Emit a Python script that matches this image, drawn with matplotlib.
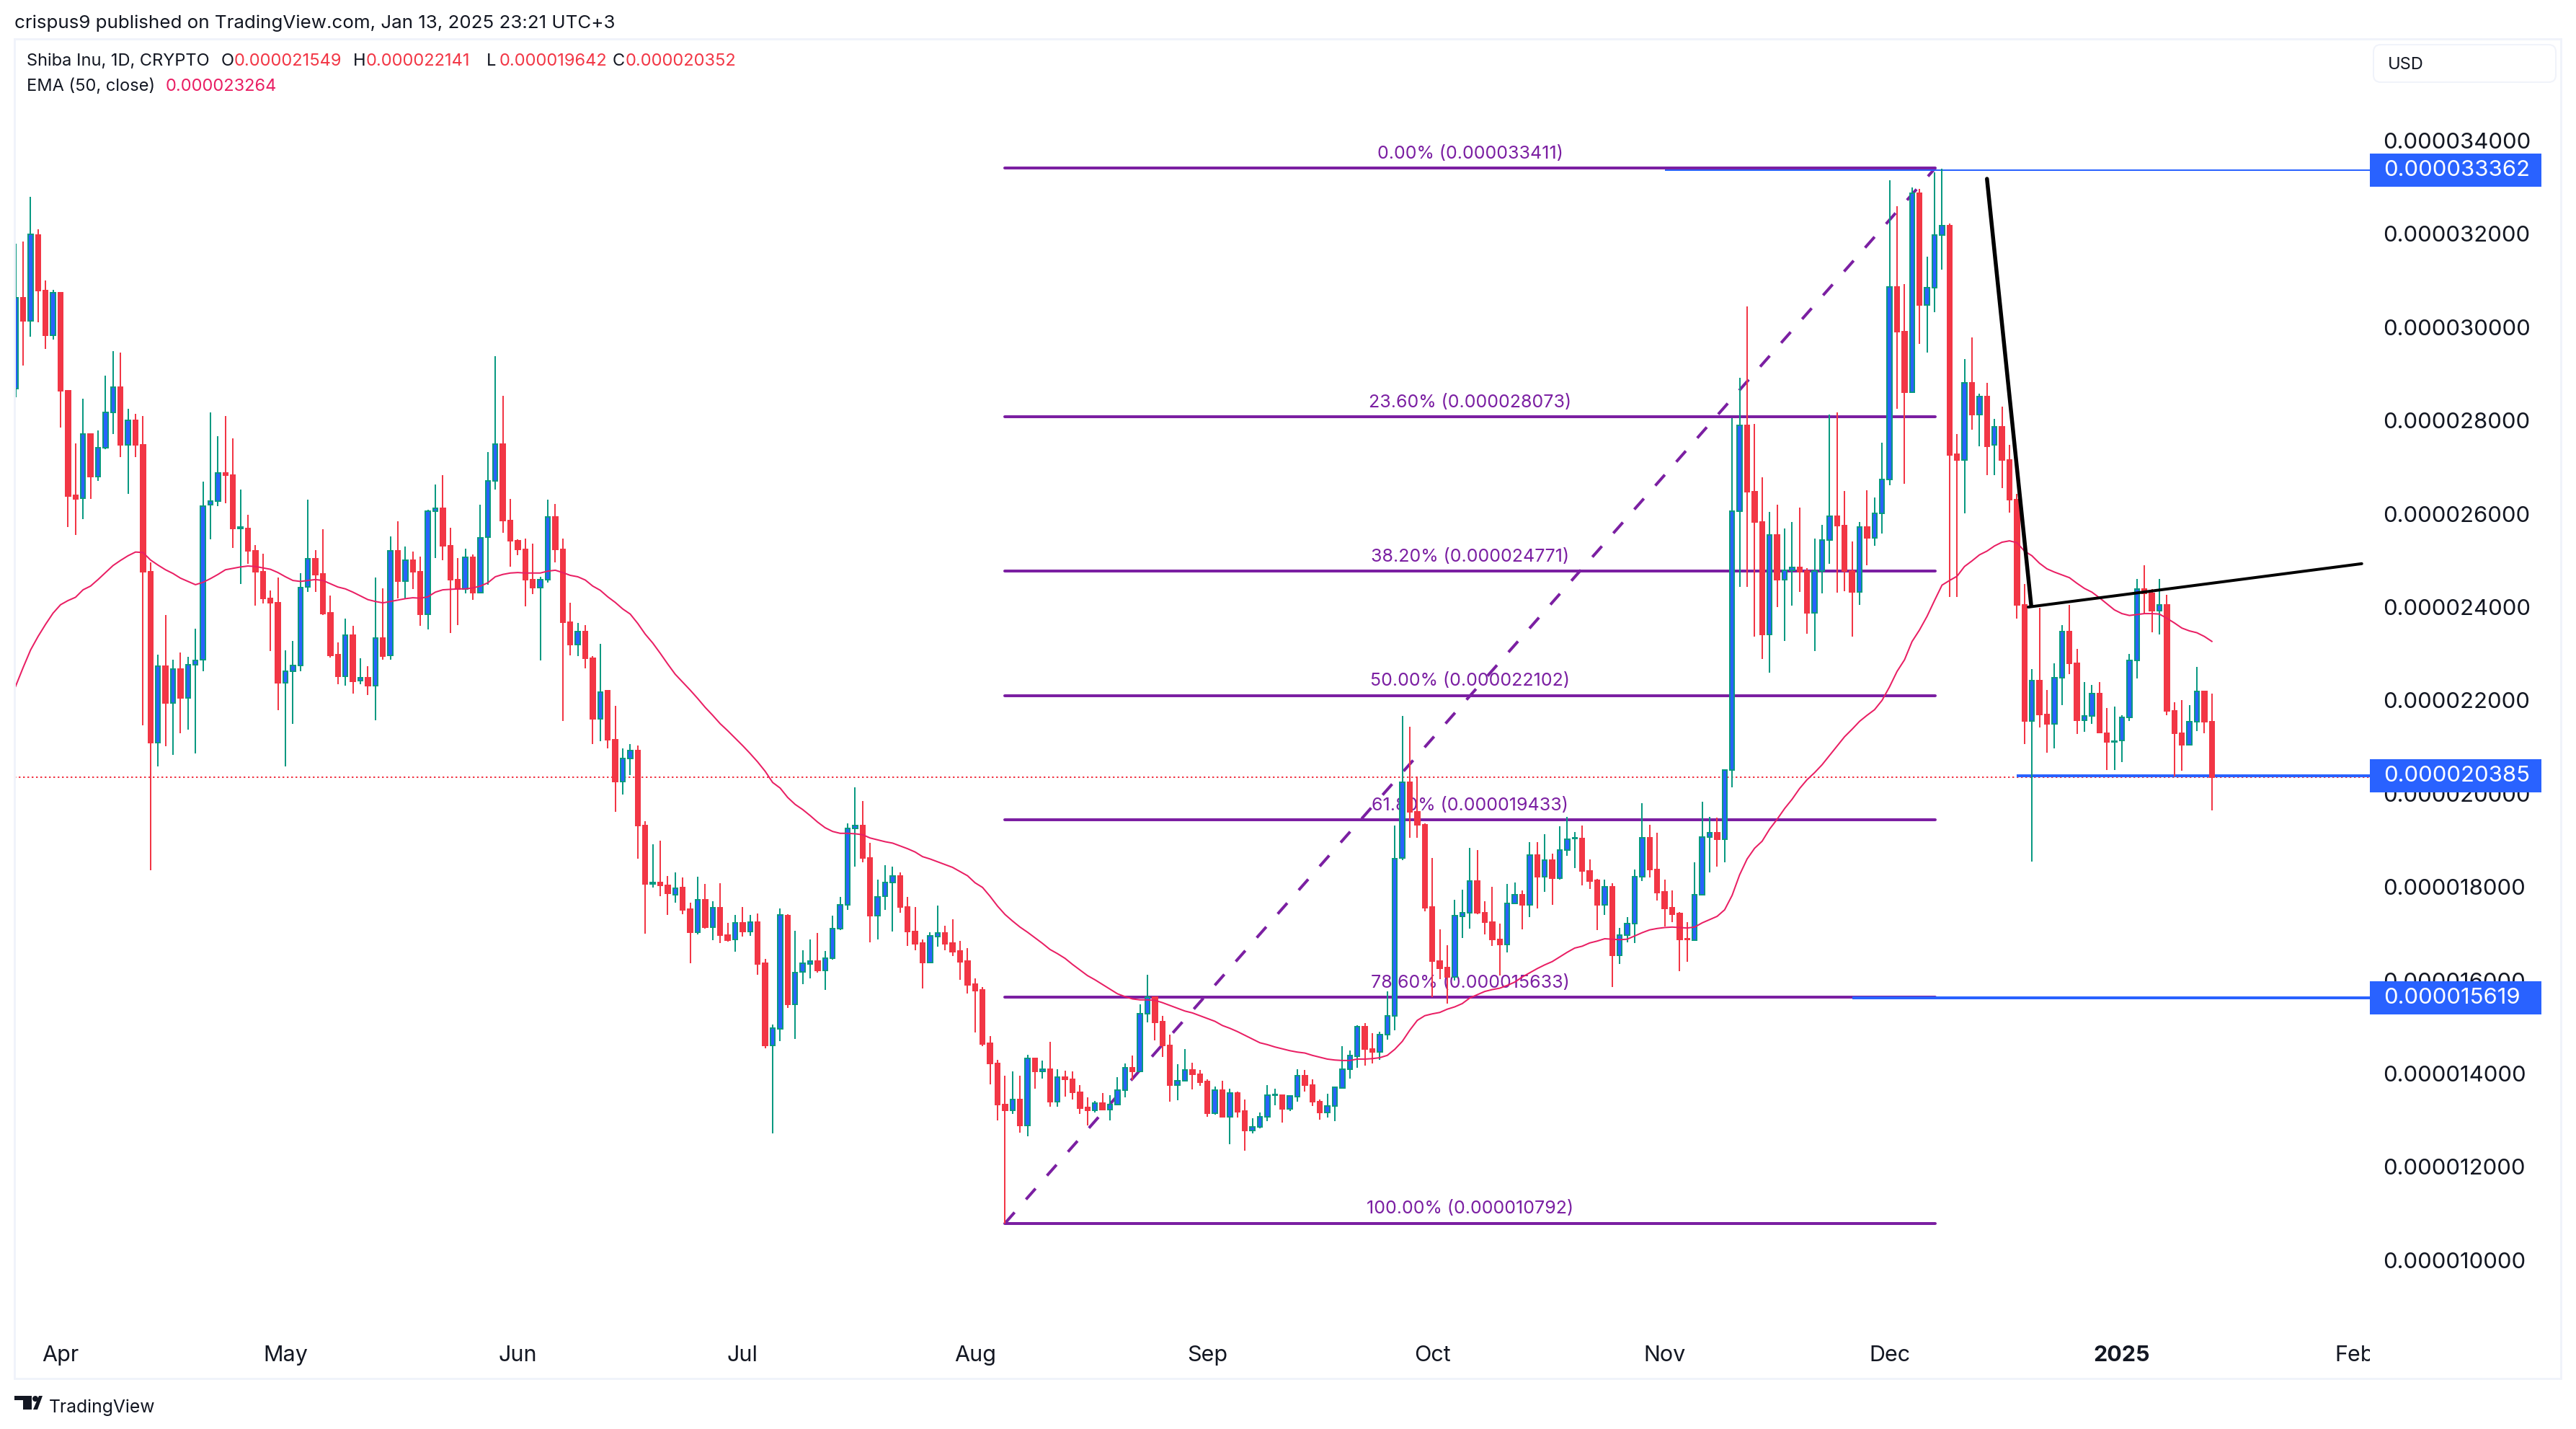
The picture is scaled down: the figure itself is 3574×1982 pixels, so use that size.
import matplotlib
matplotlib.use("Agg")
import matplotlib.pyplot as plt
import numpy as np
from matplotlib.patches import Rectangle, FancyBboxPatch, Polygon, Circle
from matplotlib.transforms import Affine2D, blended_transform_factory
from matplotlib.ticker import FuncFormatter

plt.rcParams['font.family'] = ['Inter', 'DejaVu Sans']

W, H = 3574, 1982

# daily candles, prices in millionths of a USD. index 0 is 26 Mar 2024, last is 13 Jan 2025
opens = [
    28.68,30.63,30.13,31.97,30.78,29.82,30.74,28.63,26.40,26.33,
    27.71,26.79,27.42,28.17,28.72,27.47,28.01,27.48,24.75,21.10,
    22.73,21.94,22.67,22.06,22.77,22.87,26.19,26.27,26.88,26.83,
    25.69,25.69,25.20,24.75,24.19,24.09,22.37,22.63,22.75,24.43,
    25.04,24.71,23.87,22.98,22.52,23.39,22.43,22.49,22.31,23.34,
    22.96,25.21,24.55,25.01,24.75,23.85,26.05,26.11,25.31,24.58,
    24.38,25.06,24.31,25.50,26.71,27.50,25.85,25.42,25.23,24.59,
    24.41,24.59,25.93,25.23,23.68,23.19,23.47,22.90,21.61,22.21,
    21.16,20.26,20.75,20.93,19.31,18.07,18.10,18.03,17.84,17.98,
    17.52,17.03,17.73,17.13,17.55,16.96,16.87,17.23,17.05,17.25,
    16.36,14.60,14.96,17.39,15.48,16.18,16.35,16.41,16.21,16.48,
    17.10,17.62,19.25,19.32,18.62,17.38,17.80,18.10,18.24,17.57,
    17.04,16.80,16.38,16.94,17.01,16.80,16.63,16.41,15.92,15.79,
    14.65,14.21,13.33,13.21,13.45,12.88,14.32,14.04,14.10,13.39,
    13.92,13.88,13.60,13.27,13.21,13.37,13.23,13.33,13.65,14.12,
    14.05,15.29,15.64,15.11,14.61,13.76,13.85,14.07,13.99,13.83,
    13.15,13.65,13.08,13.59,13.19,12.78,12.86,13.08,13.53,13.53,
    13.25,13.51,13.96,13.75,13.39,13.17,13.30,13.69,14.10,14.37,
    15.00,14.53,14.46,14.83,15.24,18.62,20.25,19.61,19.34,17.57,
    16.41,16.27,16.07,17.37,17.44,18.12,17.44,17.24,16.88,16.76,
    17.64,17.84,17.62,18.69,18.22,18.57,18.19,18.79,19.04,19.04,
    18.35,18.14,17.62,18.01,16.54,16.97,17.21,18.22,19.05,18.38,
    17.89,17.55,17.43,16.89,16.86,17.84,19.07,19.17,19.03,20.50,
    26.06,27.89,26.48,25.83,23.42,25.54,24.59,24.79,24.85,24.77,
    23.88,24.78,25.43,25.94,25.75,24.78,24.33,25.71,25.49,26.01,
    26.73,30.86,29.91,28.60,32.87,30.48,30.84,31.98,32.18,27.27,
    27.16,28.80,28.13,28.52,27.47,27.86,27.16,26.31,24.04,21.56,
    22.42,21.69,21.50,22.48,23.47,22.80,21.57,21.66,22.14,21.30,
    21.11,21.14,21.64,22.85,24.38,24.30,23.92,24.04,21.78,21.29,
    21.05,21.55,22.19,21.549]
closes = [
    30.63,30.13,31.99,30.78,29.82,30.74,28.63,26.38,26.32,27.71,
    26.79,27.42,28.17,28.72,27.47,28.01,27.47,24.75,21.10,22.73,
    21.94,22.67,22.06,22.77,22.86,26.17,26.27,26.88,26.83,25.68,
    25.71,25.20,24.75,24.19,24.09,22.37,22.63,22.75,24.42,25.04,
    24.70,23.86,22.97,22.52,23.39,22.41,22.49,22.31,23.34,22.95,
    25.21,24.55,25.01,24.75,23.85,26.05,26.11,25.31,24.58,24.38,
    25.06,24.31,25.49,26.71,27.50,25.85,25.42,25.23,24.59,24.41,
    24.59,25.93,25.23,23.68,23.19,23.47,22.90,21.61,22.18,21.16,
    20.26,20.75,20.93,19.31,18.07,18.10,18.03,17.86,17.97,17.51,
    17.03,17.73,17.13,17.55,16.96,16.86,17.23,17.05,17.25,16.35,
    14.60,14.97,17.40,15.48,16.17,16.36,16.41,16.21,16.48,17.10,
    17.62,19.25,19.32,18.62,17.38,17.79,18.10,18.24,17.57,17.04,
    16.78,16.38,16.95,17.01,16.78,16.61,16.40,15.90,15.78,14.63,
    14.21,13.33,13.21,13.45,12.88,14.32,14.04,14.10,13.39,13.92,
    13.88,13.60,13.26,13.21,13.37,13.23,13.33,13.65,14.12,14.05,
    15.29,15.64,15.10,14.61,13.76,13.85,14.07,13.99,13.82,13.15,
    13.65,13.07,13.59,13.18,12.78,12.86,13.08,13.53,13.55,13.25,
    13.52,13.96,13.75,13.39,13.17,13.31,13.70,14.10,14.38,15.00,
    14.53,14.46,14.83,15.24,18.61,20.25,19.61,19.34,17.55,16.41,
    16.26,16.07,17.38,17.44,18.12,17.44,17.24,16.88,16.76,17.64,
    17.84,17.62,18.69,18.22,18.57,18.19,18.79,19.02,19.05,18.35,
    18.13,17.62,18.01,16.54,16.97,17.21,18.22,19.05,18.37,17.88,
    17.54,17.42,16.87,16.88,17.84,19.07,19.17,19.03,20.50,26.06,
    27.89,26.48,25.83,23.42,25.54,24.59,24.79,24.85,24.75,23.88,
    24.77,25.43,25.94,25.75,24.78,24.33,25.71,25.49,26.01,26.73,
    30.86,29.91,28.60,32.87,30.48,30.84,31.98,32.18,27.26,27.16,
    28.80,28.13,28.52,27.45,27.86,27.16,26.31,24.04,21.56,22.42,
    21.69,21.50,22.48,23.47,22.80,21.57,21.66,22.14,21.31,21.11,
    21.13,21.64,22.85,24.38,24.30,23.92,24.04,21.78,21.29,21.05,
    21.55,22.19,21.54,20.352]
highs = [
    31.79,31.84,32.80,32.10,31.00,30.80,30.74,28.63,27.51,28.47,
    27.71,27.78,28.96,29.49,29.45,28.25,28.14,28.10,24.96,22.98,
    23.83,22.87,23.03,22.94,23.54,26.69,28.18,27.66,28.10,27.62,
    26.52,25.98,25.33,25.14,24.36,24.63,23.08,23.28,24.72,26.30,
    25.22,25.67,24.24,23.24,23.75,23.60,22.90,22.73,24.63,24.40,
    25.52,25.84,25.30,25.19,25.08,26.09,26.63,26.83,25.70,25.05,
    25.25,25.13,26.20,27.32,29.38,28.53,26.32,25.46,25.47,25.36,
    24.65,26.31,26.21,25.47,24.10,23.66,23.61,22.95,23.21,22.21,
    21.88,20.97,21.06,21.04,19.41,18.92,19.00,18.23,18.31,18.21,
    17.66,18.22,18.06,17.69,18.08,17.23,17.40,17.57,17.40,17.43,
    16.46,15.05,17.54,17.42,17.06,16.64,16.87,17.01,16.63,17.39,
    17.78,19.37,20.14,19.84,18.95,18.15,18.46,18.43,18.31,17.78,
    17.57,16.87,17.03,17.60,17.17,17.31,16.84,16.69,16.04,15.86,
    14.81,14.30,13.95,14.04,13.95,14.40,14.32,14.28,14.68,14.10,
    14.06,14.04,13.75,13.49,13.42,13.59,13.53,13.93,14.21,14.39,
    15.49,16.11,15.65,15.24,14.84,14.20,14.53,14.23,14.08,13.88,
    13.72,13.84,13.68,13.62,13.44,13.04,13.17,13.75,13.68,13.55,
    13.54,14.10,14.07,13.87,13.45,13.57,13.70,14.59,14.50,15.03,
    15.08,14.86,14.90,15.76,19.31,21.66,21.44,20.37,19.36,18.62,
    17.09,16.75,17.72,17.94,18.84,18.79,17.70,18.00,17.21,18.07,
    18.10,17.93,18.96,18.96,19.13,18.71,19.30,19.51,19.18,19.32,
    18.59,18.17,18.16,18.08,17.12,17.35,18.37,19.80,19.33,19.16,
    18.16,17.93,17.46,17.25,18.53,19.83,19.51,19.49,20.50,28.05,
    28.92,30.45,27.93,26.78,26.04,26.20,25.69,25.82,26.13,24.84,
    25.47,25.76,28.13,28.17,26.49,25.41,25.82,26.51,26.35,27.53,
    33.15,32.60,30.93,32.99,32.96,31.51,33.32,33.40,32.22,27.71,
    29.31,29.78,28.57,28.81,28.04,28.29,27.47,26.42,24.49,22.67,
    23.99,22.23,22.80,23.62,24.05,23.11,22.39,22.33,22.39,21.83,
    21.87,21.68,23.00,24.61,24.90,24.38,24.61,24.26,21.96,22.01,
    21.90,22.72,22.19,22.141]
lows = [
    28.50,29.18,29.80,30.11,29.53,29.73,27.85,25.72,25.54,25.89,
    26.32,26.70,27.38,27.71,27.22,26.43,27.21,21.46,18.36,20.58,
    21.02,20.83,21.30,21.37,20.87,22.63,25.45,26.16,26.22,25.26,
    24.49,24.93,24.03,24.07,23.06,21.79,20.59,21.50,22.63,24.32,
    24.32,23.83,22.92,22.35,22.32,22.14,22.35,22.11,21.57,22.87,
    22.87,24.18,24.18,24.39,23.60,23.52,25.05,25.01,23.45,23.62,
    24.30,24.16,24.30,24.48,26.52,25.59,24.87,25.11,24.02,24.28,
    22.85,24.52,24.96,21.56,22.97,22.95,22.69,21.06,21.13,20.97,
    19.61,19.98,20.40,18.61,17.00,17.98,17.80,17.40,17.67,17.42,
    16.36,16.98,17.11,16.86,16.80,16.83,16.61,16.94,16.95,16.12,
    14.54,12.72,14.70,15.41,14.74,15.92,16.04,16.17,15.79,16.44,
    17.08,17.51,18.43,18.53,16.82,16.88,17.51,17.05,17.44,16.73,
    16.64,15.82,16.37,16.72,16.64,16.52,16.01,15.72,14.88,14.59,
    13.77,13.00,10.79,13.13,12.73,12.65,13.68,13.89,13.29,13.29,
    13.51,13.45,13.13,12.89,13.17,13.23,13.00,13.33,13.49,13.86,
    14.05,15.10,14.71,14.35,13.40,13.43,13.84,13.66,13.73,13.07,
    13.12,13.06,12.48,13.05,12.34,12.72,12.82,12.98,13.32,12.95,
    13.20,13.40,13.62,13.30,13.01,13.05,12.98,13.69,13.89,14.13,
    14.17,14.22,14.29,14.73,14.92,18.57,19.06,19.06,17.47,15.64,
    16.03,15.50,15.99,16.91,17.11,17.42,16.99,16.74,16.10,16.59,
    17.64,17.09,17.36,17.54,17.90,17.61,18.15,18.66,18.40,18.04,
    17.95,17.07,17.40,15.85,16.35,16.82,16.80,18.12,18.21,17.71,
    17.15,17.25,16.20,16.40,16.84,17.84,18.31,18.43,18.53,20.14,
    24.44,24.43,23.36,22.88,22.59,24.00,23.27,24.03,24.32,23.43,
    23.06,24.29,24.93,24.31,24.34,23.36,24.05,24.89,25.31,25.58,
    26.61,28.25,26.64,28.60,29.64,29.46,30.32,31.23,24.21,24.21,
    26.01,27.80,27.45,26.83,26.83,26.55,26.03,23.75,21.07,18.54,
    21.42,20.88,20.97,21.90,22.56,21.28,21.33,21.50,21.30,20.51,
    20.50,20.68,21.56,22.47,23.85,23.46,23.42,21.68,20.37,20.49,
    21.05,21.34,21.30,19.642]
ema50 = [
    22.30,22.70,23.08,23.37,23.63,23.87,24.05,24.14,24.21,24.37,
    24.45,24.59,24.74,24.89,25.00,25.10,25.18,25.17,25.01,24.90,
    24.80,24.72,24.62,24.55,24.48,24.53,24.61,24.70,24.80,24.83,
    24.86,24.88,24.87,24.84,24.81,24.74,24.65,24.57,24.55,24.57,
    24.59,24.57,24.50,24.43,24.39,24.32,24.24,24.16,24.12,24.09,
    24.12,24.15,24.18,24.20,24.19,24.22,24.32,24.37,24.38,24.39,
    24.39,24.41,24.45,24.52,24.65,24.70,
    24.73,24.74,24.73,24.73,24.73,24.77,24.79,24.74,24.68,24.65,
    24.58,24.45,24.36,24.22,24.10,23.96,23.85,23.65,23.42,23.23,
    23.01,22.78,22.56,22.39,22.22,22.04,21.85,21.68,21.50,21.35,
    21.19,21.03,20.86,20.68,20.48,20.24,20.12,19.92,19.77,19.66,
    19.53,19.39,19.27,19.19,19.15,19.15,19.14,19.12,19.05,19.01,
    18.97,18.94,18.88,18.82,18.75,18.65,18.60,18.54,18.48,18.42,
    18.33,18.24,
    18.09,17.99,17.80,17.59,17.41,17.27,17.14,17.03,16.91,16.79,
    16.66,16.57,16.47,16.34,16.22,16.10,16.01,15.91,15.81,15.71,
    15.65,15.60,15.58,15.58,15.57,15.52,15.46,15.40,15.34,15.30,
    15.24,15.18,15.12,15.03,14.97,14.90,14.82,14.74,14.66,14.62,
    14.57,14.53,14.49,14.46,14.44,14.39,14.35,14.31,14.29,14.28,
    14.28,14.31,14.31,14.32,14.34,14.39,14.52,14.69,14.93,15.14,
    15.24,15.28,15.31,
    15.38,15.43,15.50,15.62,15.69,15.76,15.80,15.83,15.89,15.96,
    16.07,16.16,16.25,16.33,16.40,16.50,16.60,16.69,16.73,16.80,
    16.84,16.89,16.88,16.87,16.88,16.95,17.02,17.08,17.11,17.13,
    17.14,17.13,17.12,17.14,17.23,17.30,17.37,17.51,17.82,18.26,
    18.60,18.83,18.98,19.24,19.45,19.68,19.88,20.11,20.30,20.45,
    20.62,20.82,21.02,21.22,21.38,21.55,21.68,21.80,22.00,22.29,
    22.62,22.87,23.26,23.51,23.80,24.14,24.47,24.57,24.66,24.87,
    24.99,25.12,25.20,25.31,25.39,25.42,25.38,25.20,25.10,24.94,
    24.82,24.75,24.69,24.63,24.51,24.40,24.32,24.20,24.07,23.94,
    23.86,23.82,23.84,23.86,23.86,23.85,23.76,23.66,23.55,23.49,
    23.45,23.37,23.264]

y_ticks = [10, 12, 14, 16, 18, 20, 22, 24, 26, 28, 30, 32, 34]
month_pos = [6, 36, 67, 97, 128, 159, 189, 220, 250, 281, 312]
month_labels = ['Apr', 'May', 'Jun', 'Jul', 'Aug', 'Sep', 'Oct', 'Nov', 'Dec', '2025', 'Feb']

fib_levels = [33.411, 28.073, 24.771, 22.102, 19.433, 15.633, 10.792]
fib_labels = ['0.00% (0.000033411)', '23.60% (0.000028073)', '38.20% (0.000024771)',
              '50.00% (0.000022102)', '61.80% (0.000019433)', '78.60% (0.000015633)',
              '100.00% (0.000010792)']
fib_x = [132, 256.1]
trend_x = [132, 256.1]
trend_y = [10.792, 33.411]

# hand drawn black lines
black1_x = [263.0, 268.9]
black1_y = [33.18, 24.03]
black2_x = [268.5, 313.0]
black2_y = [24.0, 24.93]

# price lines: value, first candle, width in px
levels = [33.362, 20.385, 15.619]
level_start = [220, 267, 245]
level_width = [2, 4, 4]
last_close = 20.352

fig = plt.figure(figsize=(W / 100, H / 100), dpi=100, facecolor='white')
px = Affine2D().scale(1 / W, -1 / H).translate(0, 1) + fig.transFigure
ax = fig.add_axes([20 / W, (H - 1912) / H, 3268 / W, 1858 / H])
ax.set_xlim(-0.154, 314.08)
ax.set_ylim(34 - (1912 - 195) / 64.7, 34 + (195 - 54) / 64.7)
for s in ax.spines.values():
    s.set_visible(False)

lw = lambda p: p * 0.72  # px to points at dpi 100

for lev, lab in zip(fib_levels, fib_labels):
    ax.plot(fib_x, [lev, lev], color='#7B1FA2', lw=lw(4), solid_capstyle='round', zorder=1)
    ax.text(sum(fib_x) / 2, lev + 0.31, lab, color='#7B1FA2', fontsize=18,
            ha='center', va='center', zorder=1)
ax.plot(trend_x, trend_y, color='#7B1FA2', lw=lw(4), dashes=(5, 6), zorder=1)

ax.axhline(last_close, color='#F23645', lw=lw(2), dashes=(1.2, 1.8), zorder=2)
for lev, st, w in zip(levels, level_start, level_width):
    ax.plot([st, 314.08], [lev, lev], color='#2962FF', lw=lw(w), solid_capstyle='butt', zorder=2)

x = np.arange(len(opens))
o = np.array(opens)
c = np.array(closes)
up = c >= o
ax.vlines(x[up], np.array(lows)[up], np.array(highs)[up], color='#089981', lw=lw(2), zorder=3)
ax.vlines(x[~up], np.array(lows)[~up], np.array(highs)[~up], color='#F23645', lw=lw(2), zorder=3)
ax.bar(x[up], (c - o)[up], bottom=o[up], width=0.62, color='#2962FF', edgecolor='#089981',
       linewidth=lw(2), zorder=3.1)
ax.bar(x[~up], (c - o)[~up], bottom=o[~up], width=0.62, color='#F23645', edgecolor='#F23645',
       linewidth=lw(2), zorder=3.1)

ax.plot(x, ema50, color='#E91E63', lw=lw(2), zorder=4)
ax.plot(black1_x, black1_y, color='black', lw=lw(5.5), solid_capstyle='round', zorder=5)
ax.plot(black2_x, black2_y, color='black', lw=lw(4), solid_capstyle='round', zorder=5)

ax.yaxis.tick_right()
ax.set_yticks(y_ticks)
ax.yaxis.set_major_formatter(FuncFormatter(lambda v, pos: f'{v * 1e-6:.9f}'))
ax.tick_params(axis='y', length=0, pad=13.4, labelsize=22.4, labelcolor='#131722')
ax.set_xticks(month_pos)
ax.set_xticklabels(month_labels)
ax.tick_params(axis='x', length=0, pad=-33, labelsize=22, labelcolor='#131722')
tl = ax.get_xticklabels()
tl[9].set_fontweight('bold')
tl[10].set_clip_on(True)
tl[10].set_clip_box(ax.bbox)

# blue price labels on the scale
tr = blended_transform_factory(ax.transAxes, ax.transData)
for lev in levels:
    ax.add_patch(Rectangle((1.0, lev - 0.355), 238 / 3268, 0.711, transform=tr, color='#2962FF',
                           clip_on=False, zorder=12, lw=0))
    ax.text(1 + 19 / 3268, lev, f'{lev * 1e-6:.9f}', transform=tr, color='white', fontsize=22.4,
            va='center', ha='left', zorder=13, clip_on=False)

# frame, currency box, logo
fig.add_artist(Rectangle((20, 54), 3533, 1858, transform=px, fill=False, ec='#F0F3FA', lw=lw(3)))
fig.add_artist(FancyBboxPatch((3293, 62), 253, 52, boxstyle='round,pad=0,rounding_size=10',
                              transform=px, fc='white', ec='#F0F3FA', lw=lw(2)))
fig.text(3313 / W, 1 - 90 / H, 'USD', fontsize=17, color='#131722', va='center')

fig.text(20 / W, 1 - 32 / H, 'crispus9 published on TradingView.com, Jan 13, 2025 23:21 UTC+3',
         fontsize=18.7, color='#131722', va='center')
fig.text(37 / W, 1 - 85 / H, 'Shiba Inu, 1D, CRYPTO', fontsize=17, color='#131722', va='center')
ohlc_x = [307, 490, 675, 850]
for xp, lab, val in zip(ohlc_x, 'OHLC', ['0.000021549', '0.000022141', '0.000019642', '0.000020352']):
    fig.text(xp / W, 1 - 85 / H, lab, fontsize=17, color='#131722', va='center')
    fig.text((xp + 18) / W, 1 - 85 / H, val, fontsize=17, color='#F23645', va='center')
fig.text(37 / W, 1 - 120 / H, 'EMA (50, close)', fontsize=17, color='#131722', va='center')
fig.text(230 / W, 1 - 120 / H, '0.000023264', fontsize=17, color='#E91E63', va='center')

fig.add_artist(Polygon([(20, 1936), (44, 1936), (44, 1955), (32, 1955), (32, 1942), (20, 1942)],
                       transform=px, color='#131722', lw=0))
fig.add_artist(Circle((49, 1940), 4, transform=px, color='#131722', lw=0))
fig.add_artist(Polygon([(46, 1955), (54, 1936), (59, 1936), (52, 1955)],
                       transform=px, color='#131722', lw=0))
fig.text(68 / W, 1 - 1952 / H, 'TradingView', fontsize=17.8, color='#131722', va='center')

fig.savefig('out.png', dpi=100)
